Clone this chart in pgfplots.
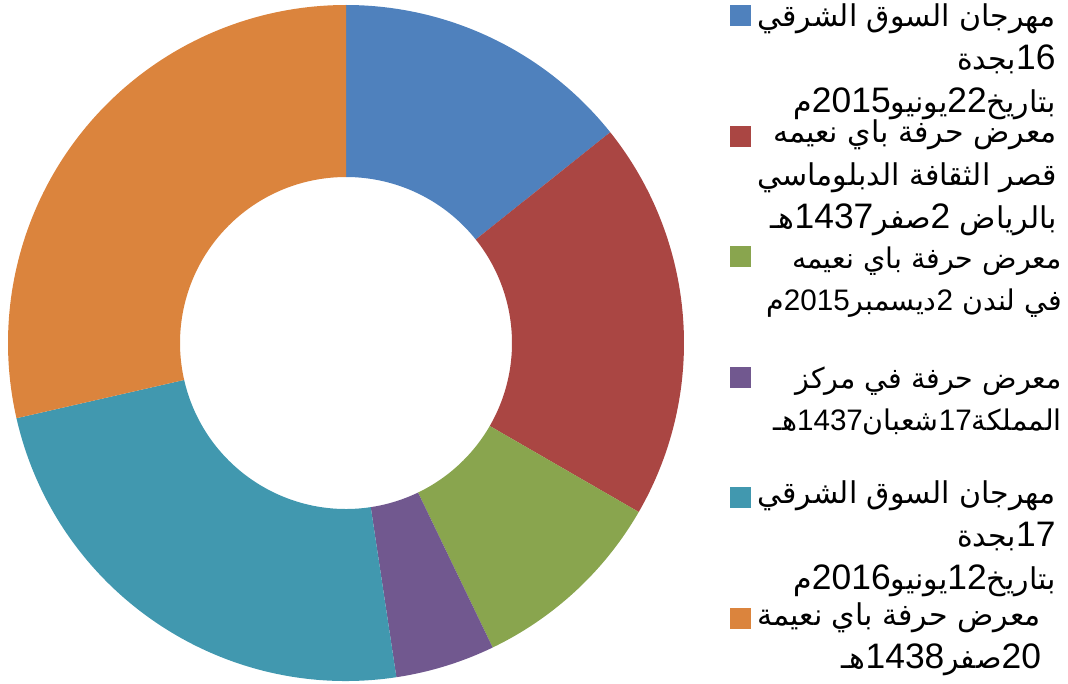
\documentclass[border=0pt]{standalone}
\usepackage{pgfplots}
\usepackage{pgfplotstable}
\pgfplotsset{compat=1.18}
\usepackage{fontspec}
\setmainfont{Liberation Sans}
\newfontfamily\latinfont[Scale=1.18]{Liberation Sans}
\newfontfamily\latinsmall[Scale=1.04]{Liberation Sans}
\newfontfamily\arabicfont[Script=Arabic]{DejaVu Sans}
\TeXXeTstate=1
\definecolor{c1}{HTML}{4F81BD}
\definecolor{c2}{HTML}{AA4643}
\definecolor{c3}{HTML}{89A54E}
\definecolor{c4}{HTML}{71588F}
\definecolor{c5}{HTML}{4198AF}
\definecolor{c6}{HTML}{DB843D}
\pgfplotstableread{
id value color
1 15 c1
2 20 c2
3 10 c3
4 5 c4
5 25 c5
6 30 c6
}\piedata
\newcommand\D[1]{{\latinfont #1}}
\newcommand\Ds[1]{{\latinsmall #1}}
\newcommand\R[1]{\beginR #1\endR}
\def\Ro{33.8}
\def\Ri{16.6}
% precompute slice angles from the table
\pgfplotstablegetrowsof{\piedata}
\pgfmathtruncatemacro{\N}{\pgfplotsretval-1}
\gdef\tot{0}
\foreach \i in {0,...,\N}{%
  \pgfplotstablegetelem{\i}{value}\of\piedata
  \pgfmathsetmacro{\tmp}{\tot+\pgfplotsretval}\xdef\tot{\tmp}}
\gdef\cum{0}
\foreach \i in {0,...,\N}{%
  \pgfplotstablegetelem{\i}{value}\of\piedata \let\val\pgfplotsretval
  \pgfplotstablegetelem{\i}{color}\of\piedata
  \expandafter\xdef\csname col\i\endcsname{\pgfplotsretval}%
  \pgfmathsetmacro{\sa}{90-\cum/\tot*360}%
  \pgfmathsetmacro{\ea}{90-(\cum+\val)/\tot*360}%
  \expandafter\xdef\csname sa\i\endcsname{\sa}%
  \expandafter\xdef\csname ea\i\endcsname{\ea}%
  \pgfmathsetmacro{\tmp}{\Ro*cos(\sa)}\expandafter\xdef\csname ox\i\endcsname{\tmp}%
  \pgfmathsetmacro{\tmp}{\Ro*sin(\sa)}\expandafter\xdef\csname oy\i\endcsname{\tmp}%
  \pgfmathsetmacro{\tmp}{\Ri*cos(\ea)}\expandafter\xdef\csname ix\i\endcsname{\tmp}%
  \pgfmathsetmacro{\tmp}{\Ri*sin(\ea)}\expandafter\xdef\csname iy\i\endcsname{\tmp}%
  \pgfmathsetmacro{\tmp}{\cum+\val}\xdef\cum{\tmp}}
\begin{document}
\begin{tikzpicture}[x=10pt,y=10pt]
\begin{axis}[x=10pt,y=10pt,xmin=-34.6,xmax=72.2,ymin=-34.0,ymax=34.3,
  disabledatascaling,hide axis,clip=false]
\pgfplotsinvokeforeach{0,...,5}{%
  \fill[fill=\csname col#1\endcsname]
    (axis cs:\csname ox#1\endcsname,\csname oy#1\endcsname)
    arc[start angle=\csname sa#1\endcsname,end angle=\csname ea#1\endcsname,radius=\Ro]
    -- (axis cs:\csname ix#1\endcsname,\csname iy#1\endcsname)
    arc[start angle=\csname ea#1\endcsname,end angle=\csname sa#1\endcsname,radius=\Ri] -- cycle;
}
% legend keys
\fill[c1] (axis cs:38.4,33.8) rectangle (axis cs:40.5,31.7);
\fill[c2] (axis cs:38.4,21.7) rectangle (axis cs:40.5,19.6);
\fill[c3] (axis cs:38.4,9.7) rectangle (axis cs:40.5,7.6);
\fill[c4] (axis cs:38.4,-2.4) rectangle (axis cs:40.5,-4.5);
\fill[c5] (axis cs:38.4,-14.4) rectangle (axis cs:40.5,-16.5);
\fill[c6] (axis cs:38.4,-26.5) rectangle (axis cs:40.5,-28.6);
\tikzset{lg/.style={anchor=base west,align=right,inner sep=0pt,
  font=\arabicfont\fontsize{30}{43}\selectfont},
  lgs/.style={anchor=base east,align=right,inner sep=0pt,
  font=\arabicfont\fontsize{28.5}{42}\selectfont}}
\node[lg] at (axis cs:41.1,23.0) {\R{مهرجان السوق الشرقي}\\\R{\D{16}بجدة}\\\R{بتاريخ\D{22}يونيو\D{2015}م}};
\node[lg] at (axis cs:41.1,11.5) {\R{معرض حرفة باي نعيمه}\\\R{قصر الثقافة الدبلوماسي}\\\R{بالرياض \D{2}صفر\D{1437}هـ}};
\node[lgs] at (axis cs:71.6,3.3) {\R{معرض حرفة باي نعيمه}\\\R{في لندن \Ds{2}ديسمبر\Ds{2015}م}};
\node[lgs] at (axis cs:71.6,-8.7) {\R{معرض حرفة في مركز}\\\R{المملكة\Ds{17}شعبان\Ds{1437}هـ}};
\node[lg] at (axis cs:41.1,-24.6) {\R{مهرجان السوق الشرقي}\\\R{\D{17}بجدة}\\\R{بتاريخ\D{12}يونيو\D{2016}م}};
\node[lg] at (axis cs:41.1,-32.5) {\R{معرض حرفة باي نعيمة}\\\R{\D{20}صفر\D{1438}هـ}};
\end{axis}
\pgfresetboundingbox
\useasboundingbox (current axis.south west) rectangle (current axis.north east);
\end{tikzpicture}
\end{document}
